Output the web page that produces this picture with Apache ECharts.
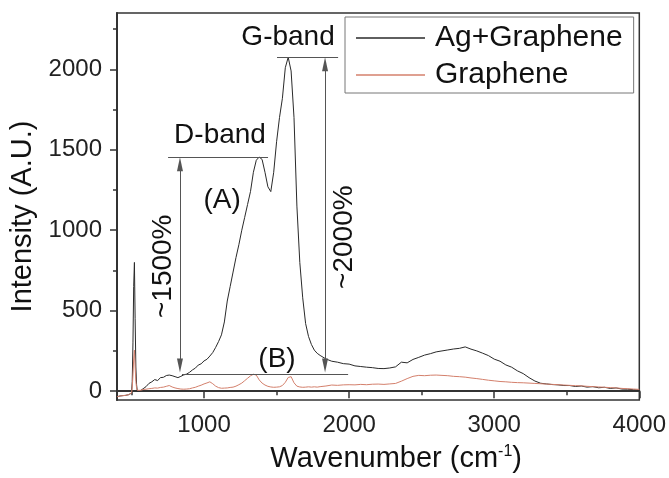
<!DOCTYPE html>
<html><head><meta charset="utf-8">
<script src="https://cdn.jsdelivr.net/npm/echarts@6/dist/echarts.min.js"></script>
<style>html,body{margin:0;padding:0;background:#fff}#c{width:669px;height:478px}</style>
</head><body><div id="c"></div>
<script>
// ---------- data ----------
const wavenumbers = [
  400,420,440,460,480,500,505,510,515,520,525,530,535,540,550,560,580,
  600,620,640,660,680,700,720,740,760,780,
  800,820,840,860,880,900,920,940,960,980,
  1000,1020,1040,1060,1080,1100,1120,1140,1160,1180,
  1200,1220,1240,1260,1280,1300,1320,1340,1360,1380,
  1400,1420,1440,1460,1480,1500,1520,1540,1560,1580,
  1600,1620,1640,1660,1680,1700,1720,1740,1760,1780,
  1800,
  1840,1880,1920,1960,2000,2040,2080,2120,2160,2200,
  2240,2280,2320,2360,2400,2440,2480,2520,2560,2600,
  2640,2680,2720,2760,2800,2840,2880,2920,2960,3000,
  3040,3080,3120,3160,3200,3240,3280,3320,3360,3400,
  3440,3480,3520,3560,3600,3640,3680,3720,3760,3800,
  3840,3880,3920,3960,4000
];
const agGraphene = [
  -35,-30,-28,-26,-22,-12,60,300,650,800,450,150,40,0,-8,2,15,
  28,48,58,72,66,84,86,97,100,96,
  90,84,92,101,106,117,132,143,162,170,
  188,198,218,240,272,308,350,430,560,650,
  740,830,910,1000,1080,1160,1240,1360,1435,1455,
  1440,1360,1270,1240,1360,1550,1700,1820,2010,2075,
  1990,1700,1150,800,580,420,340,290,255,235,
  222,
  200,186,180,171,168,157,153,149,146,141,
  140,144,151,180,176,197,210,224,233,244,
  250,256,262,266,275,261,250,236,221,199,
  186,163,149,126,109,84,63,49,45,41,
  39,35,35,29,32,25,28,21,24,17,
  20,13,12,9,6
];
const graphene = [
  -35,-30,-28,-26,-22,-12,20,100,200,255,150,60,20,5,-2,5,10,
  12,15,17,20,19,23,25,30,35,26,
  20,16,13,12,13,15,20,24,31,37,
  45,51,58,46,31,22,18,19,20,23,
  25,31,40,50,65,80,95,105,100,70,
  50,38,30,26,24,25,27,35,55,85,
  90,52,31,26,24,25,27,25,27,25,
  28,
  32,38,36,39,40,39,42,40,43,44,
  42,45,48,62,78,92,98,96,99,100,
  98,96,92,90,87,82,78,73,68,64,
  60,58,55,53,52,50,48,46,44,42,
  40,38,36,34,33,30,28,26,24,22,
  20,17,15,13,11
];
const seriesNames = ['Ag+Graphene', 'Graphene'];
const xTicks = [1000, 2000, 3000, 4000];
const xMinorTicks = [500, 1500, 2500, 3500];
const yTicks = [0, 500, 1000, 1500, 2000];
const yMinorTicks = [250, 750, 1250, 1750, 2250];
// annotation guide lines (data coordinates)
const bandLines = [
  [[752, 1453], [1441, 1453]],
  [[1503, 2075], [1924, 2075]],
  [[848, 105], [1993, 105]]
];
const arrowLines = [
  [[834, 1410], [834, 160]],
  [[1834, 2031], [1834, 160]]
];
const annotLabels = ['G-band', 'D-band', '(A)', '(B)', '~1500%', '~2000%'];
const annotX = [1579, 1110, 1124, 1503, 717, 1966];
const annotY = [2199, 1590, 1186, 199, 776, 957];
const annotRotate = [0, 0, 0, 0, 90, 90];

// ---------- chart ----------
const FONT = '"Liberation Sans", Arial, sans-serif';
const zip = (xs, ys) => xs.map((x, i) => [x, ys[i]]);
const chart = echarts.init(document.getElementById('c'), null, {renderer: 'canvas'});

const axisColor = '#333';
chart.setOption({
  animation: false,
  backgroundColor: '#fff',
  textStyle: {fontFamily: FONT},
  grid: {left: 117, top: 13, right: 29, bottom: 78, show: true, borderColor: axisColor, borderWidth: 1.5, backgroundColor: 'transparent'},
  legend: {
    data: seriesNames, orient: 'vertical', left: 345, top: 17,
    padding: [6, 11, 3, 11], itemWidth: 69, itemHeight: 1.5, itemGap: 7, icon: 'rect',
    borderColor: '#777', borderWidth: 1, backgroundColor: '#fff',
    textStyle: {fontSize: 30, color: '#111', fontFamily: FONT, padding: [0, 0, 0, 5]}
  },
  xAxis: [{
    type: 'value', min: 400, max: 4000, position: 'bottom',
    axisLine: {show: true, lineStyle: {color: axisColor, width: 2}},
    axisTick: {show: true, customValues: xTicks, length: 7, inside: false, lineStyle: {color: axisColor, width: 1.5}},
    axisLabel: {customValues: xTicks, fontSize: 24, color: '#222', margin: 13, fontFamily: FONT, formatter: v => String(v)},
    splitLine: {show: false},
    name: '{a|Wavenumber (cm}{s|-1}{a|)}', nameLocation: 'middle', nameGap: 44,
    nameTextStyle: {fontSize: 29, color: '#111', padding: [0, 0, 0, 36],
      rich: {a: {fontSize: 29, color: '#111', fontFamily: FONT}, s: {fontSize: 16, color: '#111', fontFamily: FONT, verticalAlign: 'top', padding: [0, 0, 12, 0]}}}
  }, {
    type: 'value', min: 400, max: 4000, position: 'bottom',
    axisLine: {show: false},
    axisTick: {show: true, customValues: xMinorTicks, length: 4, inside: false, lineStyle: {color: axisColor, width: 1.5}},
    axisLabel: {show: false}, splitLine: {show: false}
  }],
  yAxis: [{
    type: 'value', min: -55, max: 2350, position: 'left',
    axisLine: {show: true, lineStyle: {color: axisColor, width: 2}},
    axisTick: {show: true, customValues: yTicks, length: 7, inside: false, lineStyle: {color: axisColor, width: 1.5}},
    axisLabel: {customValues: yTicks, fontSize: 24, color: '#222', margin: 15, fontFamily: FONT, formatter: v => String(v)},
    splitLine: {show: false},
    name: 'Intensity (A.U.)', nameLocation: 'middle', nameGap: 74, nameRotate: 90,
    nameTextStyle: {fontSize: 29, color: '#111', fontFamily: FONT, padding: [0, 20, 0, 0]}
  }, {
    type: 'value', min: -55, max: 2350, position: 'left',
    axisLine: {show: false},
    axisTick: {show: true, customValues: yMinorTicks, length: 4, inside: false, lineStyle: {color: axisColor, width: 1.5}},
    axisLabel: {show: false}, splitLine: {show: false}
  }],
  series: [{
    name: seriesNames[0], type: 'line', data: zip(wavenumbers, agGraphene),
    showSymbol: false, symbol: 'none', xAxisIndex: 0, yAxisIndex: 0,
    lineStyle: {color: '#2a2a2a', width: 1}, itemStyle: {color: '#2a2a2a'}, z: 2
  }, {
    name: seriesNames[1], type: 'line', data: zip(wavenumbers, graphene),
    showSymbol: false, symbol: 'none', xAxisIndex: 0, yAxisIndex: 0,
    lineStyle: {color: '#d4806c', width: 1}, itemStyle: {color: '#d4806c'}, z: 3
  }, {
    name: 'annotations', type: 'line', data: [], xAxisIndex: 0, yAxisIndex: 0, z: 4,
    markLine: {
      silent: true, animation: false, symbol: ['none', 'none'],
      label: {show: false},
      lineStyle: {color: '#555', width: 1, type: 'solid'},
      emphasis: {disabled: true},
      data: bandLines.map(l => [{coord: l[0]}, {coord: l[1]}]).concat(
        arrowLines.map(l => [
          {coord: l[0], symbol: 'triangle', symbolSize: [6, 14]},
          {coord: l[1], symbol: 'triangle', symbolSize: [6, 14]}
        ]))
    },
    markPoint: {
      silent: true, animation: false, symbol: 'circle', symbolSize: 0,
      label: {show: true, position: 'inside', fontSize: 28, color: '#111', fontFamily: FONT, formatter: p => p.name},
      data: annotLabels.map((t, i) => ({name: t, coord: [annotX[i], annotY[i]], label: {rotate: annotRotate[i]}}))
    }
  }]
});
</script>
</body></html>
